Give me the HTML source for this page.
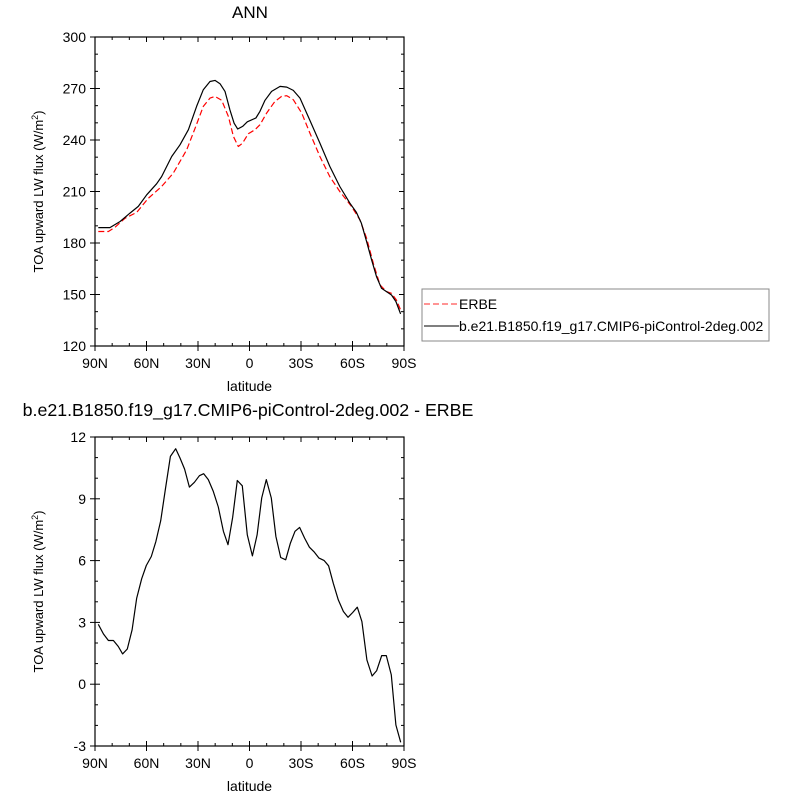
<!DOCTYPE html>
<html><head><meta charset="utf-8"><style>
body{margin:0;background:#fff}
svg{font-family:"Liberation Sans",Arial,sans-serif}
</style></head><body>
<svg id="c" width="800" height="800" viewBox="0 0 800 800" xmlns="http://www.w3.org/2000/svg"></svg>
<script>
const lat1=[88.1,81.3,75.4,69.6,64.8,59.9,54.1,51.2,45.3,40.5,35.6,30.8,26.9,23.0,20.1,17.2,14.3,11.4,9.0,6.9,4.0,1.3,-3.7,-6.1,-9.0,-12.9,-17.8,-21.7,-25.5,-29.4,-35.2,-41.0,-46.8,-52.6,-58.5,-62.3,-65.2,-68.2,-71.1,-74.0,-76.9,-79.8,-82.7,-85.3,-88.0];
const modelVals=[189.0,189.0,192.5,197.4,201.3,208.1,214.5,218.7,230.4,237.2,246.0,259.6,269.3,274.1,274.7,272.8,268.3,257.6,249.8,246.4,247.9,250.6,252.8,256.7,263.1,268.3,271.2,270.8,268.9,264.4,251.4,238.2,224.6,212.9,203.2,197.8,191.5,180.8,170.2,160.4,153.6,151.7,149.7,145.9,138.7];
const latObs=[88.1,82.2,78.3,72.5,65.7,58.9,51.2,44.4,36.6,31.7,26.9,23.0,20.1,16.2,12.3,9.4,6.5,4.0,0.7,-3.2,-6.1,-10.0,-14.8,-18.7,-21.7,-25.5,-30.4,-35.2,-41.0,-46.8,-52.6,-59.4,-64.3,-68.2,-72.1,-76.0,-79.8,-82.7,-85.6,-88.0];
const obsVals=[186.7,186.7,189.2,194.4,197.8,206.1,212.9,220.7,234.3,246.9,259.6,264.4,265.4,263.1,253.7,242.1,236.2,238.2,243.6,246.0,248.9,255.7,262.5,265.4,265.8,263.5,255.7,244.0,230.4,218.7,210.0,201.3,193.5,182.8,168.2,155.6,151.7,150.7,146.8,141.0];
const latDiff=[88.1,85.1,82.2,79.3,76.4,73.9,71.2,68.4,65.7,62.8,60.1,57.2,54.5,51.7,49.0,46.1,43.0,40.5,37.8,35.0,32.1,29.2,26.7,24.0,21.1,18.2,15.2,12.5,9.8,7.1,4.2,1.3,-1.7,-4.4,-7.1,-9.8,-12.7,-15.4,-18.2,-21.1,-23.8,-26.5,-29.2,-32.1,-34.9,-37.8,-40.5,-43.4,-46.1,-48.8,-51.7,-54.7,-57.4,-60.1,-62.8,-65.5,-68.4,-71.4,-74.1,-77.0,-79.7,-82.6,-85.3,-88.1];
const diffVals=[2.91,2.44,2.12,2.12,1.83,1.47,1.71,2.64,4.18,5.12,5.76,6.20,6.93,7.93,9.47,11.06,11.43,10.98,10.44,9.57,9.80,10.12,10.22,9.93,9.36,8.60,7.42,6.77,8.11,9.89,9.63,7.25,6.23,7.25,9.04,9.93,9.04,7.17,6.15,6.04,6.85,7.42,7.61,7.09,6.65,6.41,6.12,6.01,5.75,4.90,4.09,3.53,3.25,3.48,3.74,3.04,1.18,0.40,0.66,1.39,1.39,0.45,-1.98,-2.82];
const xTicks=[90,60,30,0,-30,-60,-90];
const xTickLabels=["90N","60N","30N","0","30S","60S","90S"];
const yTicks1=[120,150,180,210,240,270,300];
const yTicks2=[-3,0,3,6,9,12];

const svg=document.getElementById('c');
const NS='http://www.w3.org/2000/svg';
function el(tag,attrs,parent){const e=document.createElementNS(NS,tag);for(const k in attrs)e.setAttribute(k,attrs[k]);(parent||svg).appendChild(e);return e;}
const X0=95,X1=404;
const xs=l=>X0+(90-l)/180*(X1-X0);

function panel(name,top,bot,ymin,ymax,yt,ylab,minorStep){
  const g=el('g',{});
  
  
  const ys=v=>bot-(v-ymin)/(ymax-ymin)*(bot-top);
  for(let l=90;l>=-90;l-=10){
    const x=xs(l);const major=l%30===0;const len=major?5:3;
    el('line',{x1:x,y1:bot,x2:x,y2:bot-len,stroke:'#000','stroke-width':1},g);
    el('line',{x1:x,y1:top,x2:x,y2:top+len,stroke:'#000','stroke-width':1},g);
    if(major){el('line',{x1:x,y1:bot,x2:x,y2:bot+5,stroke:'#000','stroke-width':1},g);}
  }
  for(let v=ymin;v<=ymax+1e-6;v+=minorStep){
    const y=ys(v);const major=yt.some(t=>Math.abs(t-v)<1e-6);const len=major?5:3;
    el('line',{x1:X0,y1:y,x2:X0+len,y2:y,stroke:'#000','stroke-width':1},g);
    el('line',{x1:X1,y1:y,x2:X1-len,y2:y,stroke:'#000','stroke-width':1},g);
    if(major)el('line',{x1:X0,y1:y,x2:X0-5,y2:y,stroke:'#000','stroke-width':1},g);
  }
  yt.forEach(v=>{const t=el('text',{x:X0-9,y:ys(v)+5,'text-anchor':'end','font-size':14},g);t.textContent=v;
    });
  xTicks.forEach((l,i)=>{const t=el('text',{x:xs(l),y:bot+22,'text-anchor':'middle','font-size':14},g);t.textContent=xTickLabels[i];
    });
  const xl=el('text',{x:(X0+X1)/2,y:bot+45,'text-anchor':'middle','font-size':14},g);xl.textContent='latitude';
  
  const yl=el('text',{x:0,y:0,'text-anchor':'middle','font-size':13,transform:`translate(${X0-52},${(top+bot)/2}) rotate(-90)`},g);
  yl.innerHTML='TOA upward LW flux (W/m<tspan dy="-5" font-size="9">2</tspan><tspan dy="5">)</tspan>';
  
  el('rect',{x:X0,y:top,width:X1-X0,height:bot-top,fill:'none',stroke:'#000','stroke-width':1.2},g);
  return {g,ys};
}
function line(g,lats,vals,ys,attrs,name){
  const d=lats.map((l,i)=>(i?'L':'M')+xs(l).toFixed(1)+','+ys(vals[i]).toFixed(1)).join('');
  const p=el('path',Object.assign({d,fill:'none','stroke-linejoin':'round'},attrs),g);
  
  
}
const p1=panel('top-panel',37,346,120,300,yTicks1,'',10);
line(p1.g,latObs,obsVals,p1.ys,{stroke:'#f00','stroke-width':1.2,'stroke-dasharray':'6,3'},'erbe-line');
line(p1.g,lat1,modelVals,p1.ys,{stroke:'#000','stroke-width':1.2},'model-line');
const t1=el('text',{x:250,y:18,'text-anchor':'middle','font-size':17});t1.textContent='ANN';


const p2=panel('bottom-panel',437,746,-3,12,yTicks2,'',1);
line(p2.g,latDiff,diffVals,p2.ys,{stroke:'#000','stroke-width':1.2},'difference-line');
const t2=el('text',{x:248,y:416,'text-anchor':'middle','font-size':17.8});t2.textContent='b.e21.B1850.f19_g17.CMIP6-piControl-2deg.002 - ERBE';


const lg=el('g',{});


el('rect',{x:422,y:289,width:347,height:52,fill:'#fff',stroke:'#888','stroke-width':1},lg);
el('line',{x1:424,y1:304,x2:459,y2:304,stroke:'#f55','stroke-width':1.2,'stroke-dasharray':'6,3'},lg);
el('line',{x1:424,y1:326,x2:459,y2:326,stroke:'#333','stroke-width':1.2},lg);
const e1=el('text',{x:459,y:309,'font-size':14},lg);e1.textContent='ERBE';

const e2=el('text',{x:459,y:331,'font-size':14},lg);e2.textContent='b.e21.B1850.f19_g17.CMIP6-piControl-2deg.002';

</script>
</body></html>
